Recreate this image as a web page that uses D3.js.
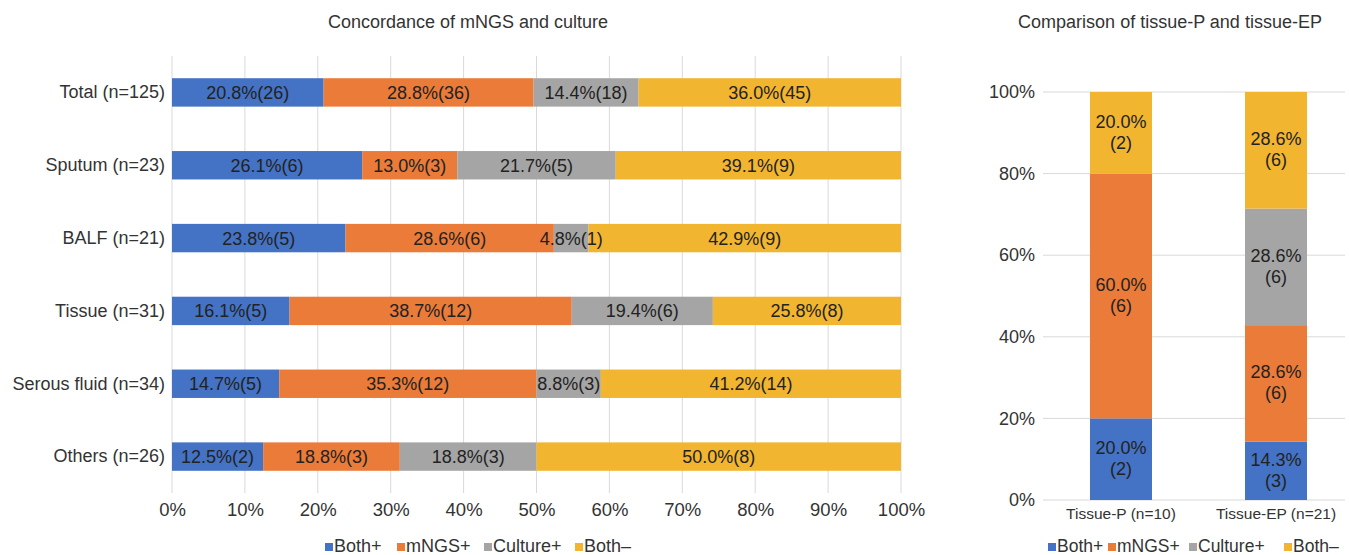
<!DOCTYPE html>
<html>
<head>
<meta charset="utf-8">
<script src="https://cdn.jsdelivr.net/npm/d3@7"></script>
<style>
  body { margin: 0; background: #fff; }
  svg { display: block; font-family: "Liberation Sans", Arial, sans-serif; }
</style>
</head>
<body>
<script>
// data
const seriesNames = ["Both+", "mNGS+", "Culture+", "Both\u2013"];
const colors = ["#4472c4", "#ea7b39", "#a5a5a5", "#f2b530"];

const categories = ["Total (n=125)", "Sputum (n=23)", "BALF (n=21)", "Tissue (n=31)", "Serous fluid (n=34)", "Others (n=26)"];
const bothPos = [26, 6, 5, 5, 5, 2];
const mngsPos = [36, 3, 6, 12, 12, 3];
const culturePos = [18, 5, 1, 6, 3, 3];
const bothNeg = [45, 9, 9, 8, 14, 8];
const bothPosPct = ["20.8%", "26.1%", "23.8%", "16.1%", "14.7%", "12.5%"];
const mngsPosPct = ["28.8%", "13.0%", "28.6%", "38.7%", "35.3%", "18.8%"];
const culturePosPct = ["14.4%", "21.7%", "4.8%", "19.4%", "8.8%", "18.8%"];
const bothNegPct = ["36.0%", "39.1%", "42.9%", "25.8%", "41.2%", "50.0%"];

const tissueGroups = ["Tissue-P (n=10)", "Tissue-EP (n=21)"];
const tBothPos = [2, 3];
const tMngsPos = [6, 6];
const tCulturePos = [0, 6];
const tBothNeg = [2, 6];
const tBothPosPct = ["20.0%", "14.3%"];
const tMngsPosPct = ["60.0%", "28.6%"];
const tCulturePosPct = ["", "28.6%"];
const tBothNegPct = ["20.0%", "28.6%"];

const xTicks = [0, 10, 20, 30, 40, 50, 60, 70, 80, 90, 100];
const yTicks = [0, 20, 40, 60, 80, 100];

const width = 1349, height = 555;
const svg = d3.select("body").append("svg").attr("width", width).attr("height", height);

const textColor = "#333";
const gridColor = "#d9d9d9";
const fontFam = "Liberation Sans, Arial, sans-serif";

// build stacked rows (percent positions from counts)
const buildRows = (names, cols, pcts) => names.map((name, i) => {
  const counts = cols.map(c => c[i]);
  const total = d3.sum(counts);
  let acc = 0;
  const segs = counts.map((v, k) => {
    const s = {k, x0: acc / total * 100, x1: (acc + v) / total * 100, count: v, pct: pcts[k][i]};
    acc += v;
    return s;
  });
  return {name, segs};
});

const appendLegend = (g, xs, fontSize) => {
  seriesNames.forEach((n, i) => {
    const item = g.append("g").attr("transform", `translate(${xs[i]},0)`);
    item.append("rect").attr("x", 0).attr("y", -3).attr("width", 8).attr("height", 8).attr("fill", colors[i]);
    item.append("text").attr("x", 9).attr("y", 0).attr("dy", "0.35em")
      .attr("font-size", fontSize).attr("fill", textColor).text(n);
  });
}

// ---------- left chart ----------
const left = {x0: 172, x1: 901, y0: 56, y1: 493};
const rows = buildRows(categories, [bothPos, mngsPos, culturePos, bothNeg],
  [bothPosPct, mngsPosPct, culturePosPct, bothNegPct]);

const x = d3.scaleLinear().domain([0, 100]).range([left.x0, left.x1]);
const y = d3.scaleBand().domain(categories).range([left.y0, left.y1]).paddingInner(0.61).paddingOuter(0.305);

svg.append("text")
  .attr("x", 468).attr("y", 28)
  .attr("text-anchor", "middle")
  .attr("font-size", 18).attr("fill", textColor)
  .text("Concordance of mNGS and culture");

svg.append("g")
  .selectAll("line")
  .data(xTicks)
  .join("line")
  .attr("x1", d => x(d)).attr("x2", d => x(d))
  .attr("y1", left.y0).attr("y2", left.y1)
  .attr("stroke", gridColor).attr("stroke-width", 1);

svg.append("g")
  .attr("transform", `translate(0,${left.y1})`)
  .call(d3.axisBottom(x).tickValues(xTicks).tickFormat(d => d + "%").tickSize(0).tickPadding(10))
  .call(g => g.select(".domain").remove())
  .call(g => g.selectAll("text").attr("font-size", 18.5).attr("fill", textColor).attr("font-family", fontFam));

svg.append("g")
  .attr("transform", `translate(${left.x0},0)`)
  .call(d3.axisLeft(y).tickSize(0).tickPadding(7))
  .call(g => g.select(".domain").remove())
  .call(g => g.selectAll("text").attr("font-size", 18).attr("fill", textColor).attr("font-family", fontFam));

const rowG = svg.append("g").selectAll("g").data(rows).join("g")
  .attr("transform", d => `translate(0,${y(d.name)})`);

rowG.selectAll("rect")
  .data(d => d.segs)
  .join("rect")
  .attr("x", d => x(d.x0))
  .attr("width", d => x(d.x1) - x(d.x0))
  .attr("height", y.bandwidth())
  .attr("fill", d => colors[d.k]);

rowG.selectAll("text")
  .data(d => d.segs.filter(s => s.count > 0))
  .join("text")
  .attr("x", d => (x(d.x0) + x(d.x1)) / 2)
  .attr("y", y.bandwidth() / 2)
  .attr("dy", "0.36em")
  .attr("text-anchor", "middle")
  .attr("font-size", 18)
  .attr("fill", "#222")
  .text(d => `${d.pct}(${d.count})`);

appendLegend(svg.append("g").attr("transform", "translate(325,546)"), [0, 72, 159, 250], 18);

// ---------- right chart ----------
const right = {x0: 1043, x1: 1345, y0: 92, y1: 500};
const trows = buildRows(tissueGroups, [tBothPos, tMngsPos, tCulturePos, tBothNeg],
  [tBothPosPct, tMngsPosPct, tCulturePosPct, tBothNegPct]);

const yR = d3.scaleLinear().domain([0, 100]).range([right.y1, right.y0]);
const xR = d3.scaleBand().domain(tissueGroups).range([right.x0, right.x0 + 311]).paddingInner(0.6).paddingOuter(0.303);

svg.append("text")
  .attr("x", 1170).attr("y", 28)
  .attr("text-anchor", "middle")
  .attr("font-size", 18).attr("fill", textColor)
  .text("Comparison of tissue-P and tissue-EP");

svg.append("g")
  .selectAll("line")
  .data(yTicks)
  .join("line")
  .attr("x1", right.x0).attr("x2", right.x1)
  .attr("y1", d => yR(d)).attr("y2", d => yR(d))
  .attr("stroke", gridColor).attr("stroke-width", 1);

svg.append("g")
  .attr("transform", `translate(${right.x0},0)`)
  .call(d3.axisLeft(yR).tickValues(yTicks).tickFormat(d => d + "%").tickSize(0).tickPadding(8))
  .call(g => g.select(".domain").remove())
  .call(g => g.selectAll("text").attr("font-size", 18).attr("fill", textColor).attr("font-family", fontFam));

svg.append("g")
  .attr("transform", `translate(0,${right.y1})`)
  .call(d3.axisBottom(xR).tickSize(0).tickPadding(8))
  .call(g => g.select(".domain").remove())
  .call(g => g.selectAll("text").attr("font-size", 15.5).attr("fill", textColor).attr("font-family", fontFam));

const colG = svg.append("g").selectAll("g").data(trows).join("g")
  .attr("transform", d => `translate(${xR(d.name)},0)`);

colG.selectAll("rect")
  .data(d => d.segs)
  .join("rect")
  .attr("x", 0)
  .attr("y", d => yR(d.x1))
  .attr("width", xR.bandwidth())
  .attr("height", d => yR(d.x0) - yR(d.x1))
  .attr("fill", d => colors[d.k]);

const lbl = colG.selectAll("text")
  .data(d => d.segs.filter(s => s.count > 0))
  .join("text")
  .attr("text-anchor", "middle")
  .attr("font-size", 18)
  .attr("fill", "#222");
lbl.append("tspan")
  .attr("x", xR.bandwidth() / 2)
  .attr("y", d => (yR(d.x0) + yR(d.x1)) / 2 - 5)
  .text(d => d.pct);
lbl.append("tspan")
  .attr("x", xR.bandwidth() / 2)
  .attr("y", d => (yR(d.x0) + yR(d.x1)) / 2 + 16)
  .text(d => `(${d.count})`);

appendLegend(svg.append("g").attr("transform", "translate(1048,546)"), [0, 60, 141, 236], 17.5);
</script>
</body>
</html>
